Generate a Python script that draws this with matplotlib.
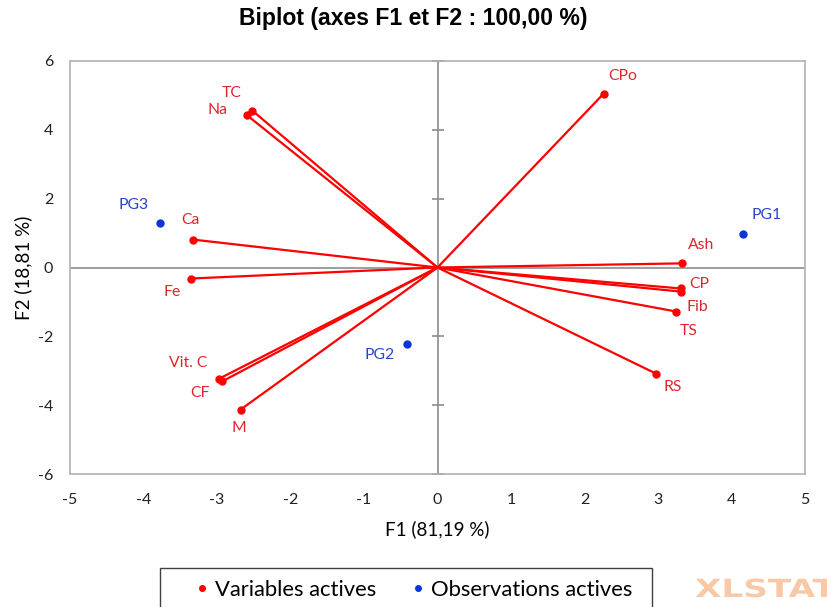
import matplotlib
matplotlib.use("Agg")
import matplotlib.pyplot as plt
from matplotlib.lines import Line2D
from matplotlib.patches import Rectangle, PathPatch
from matplotlib.textpath import TextPath
from matplotlib.font_manager import FontProperties
from matplotlib.transforms import Affine2D

plt.rcParams['font.family'] = ['Lato', 'DejaVu Sans']
plt.rcParams['axes.unicode_minus'] = False

# Variables (active)
var_names = ["CPo", "TC", "Na", "Ca", "Fe", "Vit. C", "CF", "M",
             "Ash", "CP", "Fib", "TS", "RS"]
var_f1 = [2.26, -2.52, -2.59, -3.32, -3.35, -2.97, -2.93, -2.68,
          3.32, 3.31, 3.31, 3.25, 2.97]
var_f2 = [5.05, 4.56, 4.42, 0.81, -0.32, -3.23, -3.31, -4.13,
          0.12, -0.61, -0.70, -1.28, -3.08]

# Observations (active)
obs_names = ["PG1", "PG2", "PG3"]
obs_f1 = [4.15, -0.41, -3.78]
obs_f2 = [0.96, -2.21, 1.28]

xticks = [-5, -4, -3, -2, -1, 0, 1, 2, 3, 4, 5]
yticks = [-6, -4, -2, 0, 2, 4, 6]

# label offsets in points (layout only)
var_offsets = [(14, 13), (-15, 13), (-21, 4), (-2, 14), (-14, -10),
               (-22, 11), (-16, -8), (-1, -13),
               (14, 13), (13, 3), (12, -11), (9, -14), (12, -10)]
obs_offsets = [(17, 14), (-20, -8), (-19, 13)]

RED = "#FF0000"
RED_TXT = "#E0242C"
BLUE = "#0A35D8"
BLUE_TXT = "#2546C8"

W, H = 827, 607
fig = plt.figure(figsize=(W/100, H/100), dpi=100)
ax = fig.add_axes([70/W, 1-474/H, (805-70)/W, (474-61)/H])

ax.set_xlim(-5, 5)
ax.set_ylim(-6, 6)

# zero lines
ax.axhline(0, color="#8c8c8c", lw=1.2, zorder=1)
ax.axvline(0, color="#8c8c8c", lw=1.2, zorder=1)
# small cross ticks on the vertical zero line
ax.plot([0]*len(yticks), yticks, ls="none", marker="_", ms=9, mew=1.2,
        color="#8c8c8c", zorder=1, clip_on=False)

for n, x, y, off in zip(var_names, var_f1, var_f2, var_offsets):
    ax.plot([0, x], [0, y], color=RED, lw=1.6, zorder=2)
    ax.plot([x], [y], "o", color=RED, ms=5, zorder=3)
    ax.annotate(n, (x, y), xytext=off, textcoords="offset points",
                ha="center", va="center", color=RED_TXT, fontsize=11.3)

for n, x, y, off in zip(obs_names, obs_f1, obs_f2, obs_offsets):
    ax.plot([x], [y], "o", color=BLUE, ms=5, zorder=3)
    ax.annotate(n, (x, y), xytext=off, textcoords="offset points",
                ha="center", va="center", color=BLUE_TXT, fontsize=11.3)

ax.set_xticks(xticks)
ax.set_yticks(yticks)
ax.tick_params(axis="x", length=0, labelsize=11.5, pad=14, colors="#222222")
ax.tick_params(axis="y", length=0, labelsize=11.5, pad=12, colors="#222222")
for s in ax.spines.values():
    s.set_color("#b0b0b0")
    s.set_linewidth(1.2)

ax.set_xlabel("F1 (81,19 %)", fontsize=13.5, labelpad=9)
ax.set_ylabel("F2 (18,81 %)", fontsize=13.5, labelpad=4)
fig.text(0.5, 1-18/H, "Biplot (axes F1 et F2 : 100,00 %)", ha="center",
         va="center", fontsize=16.6, fontweight="bold",
         family=["Liberation Sans", "DejaVu Sans"])

# legend (frame drawn separately so it runs off the bottom like the reference)
handles = [Line2D([], [], ls="none", marker="o", ms=4, color=RED, label="Variables actives"),
           Line2D([], [], ls="none", marker="o", ms=4, color=BLUE, label="Observations actives")]
leg = fig.legend(handles=handles, loc="center", ncol=2,
                 bbox_to_anchor=(412/W, 1-590/H), fontsize=15.8,
                 frameon=False, handletextpad=0.1, columnspacing=1.4,
                 borderpad=0.0, borderaxespad=0, handlelength=1.0)
fig.add_artist(Rectangle((160/W, -20/H), (652-160)/W, (20+607-568)/H,
                         transform=fig.transFigure, fill=False,
                         edgecolor="#404040", lw=1.0, clip_on=False))

# XLSTAT watermark (stretched text path, display/pixel coordinates)
tp = TextPath((0, 0), "XLSTAT", size=25,
              prop=FontProperties(family="DejaVu Sans", weight="bold"))
logo = PathPatch(tp, transform=Affine2D().scale(1.37, 1.0).translate(695, H-597),
                 facecolor="#F9C8A6", edgecolor="none")
fig.add_artist(logo)

fig.savefig("out.png", dpi=100)
